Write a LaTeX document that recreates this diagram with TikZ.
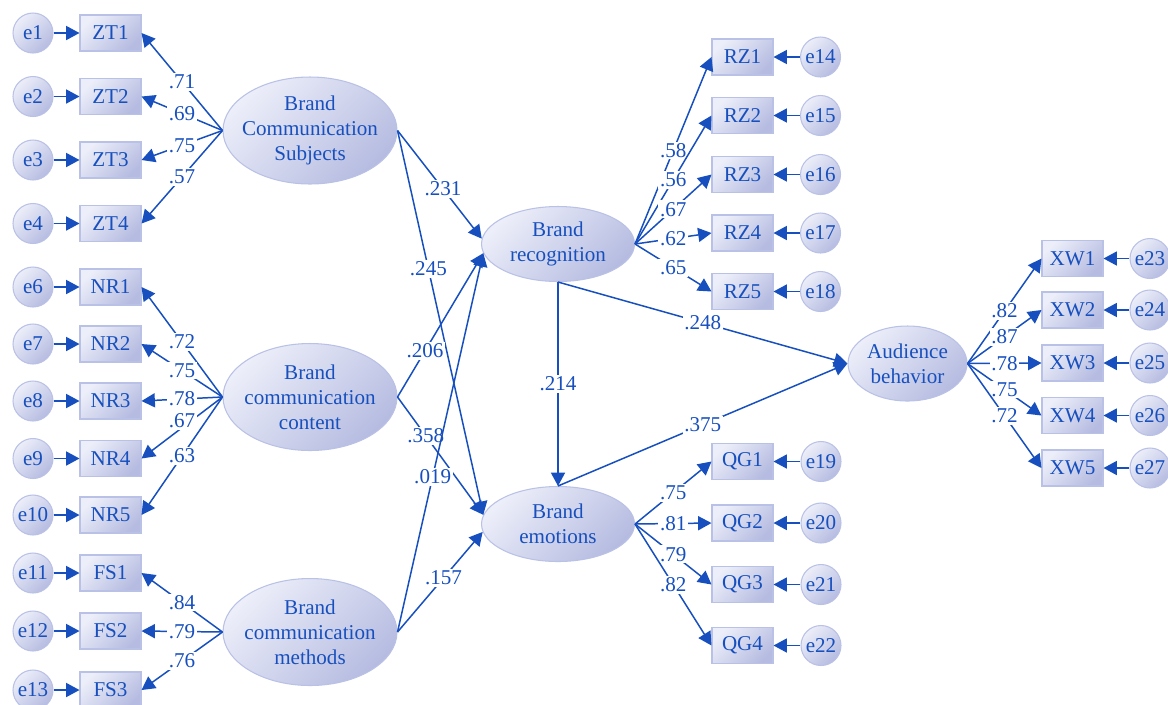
\documentclass[tikz,border=0pt]{standalone}
\usepackage{fontspec}
\setmainfont{Liberation Serif}
\usetikzlibrary{shapes.geometric,arrows.meta}

\definecolor{semblue}{HTML}{1750BE}
\definecolor{shadelight}{HTML}{ECEEF9}
\definecolor{shadedark}{HTML}{B6BCE1}
\definecolor{rimcol}{HTML}{BAC1E6}

\tikzset{
  varbase/.style={draw=rimcol, line width=0.6pt, top color=shadelight,
    bottom color=shadedark, shading angle=45, text=semblue, inner sep=0pt,
    font=\fontsize{12}{14.2}\selectfont},
  indicator/.style={varbase, rectangle, minimum width=1.22cm, minimum height=0.72cm},
  errterm/.style={varbase, circle, minimum size=0.8cm},
  latent/.style={varbase, ellipse, align=center},
  biglatent/.style={latent, inner xsep=-3.9pt, minimum width=3.48cm, minimum height=2.14cm},
  semarrow/.style={draw=semblue, line width=0.85pt, -{Triangle[length=7.6pt,width=8pt]}},
  coef/.style={fill=white, text=semblue, inner sep=1pt, font=\fontsize{12}{14}\selectfont}
}

\begin{document}
\begin{tikzpicture}[x=0.02cm, y=-0.02cm]
  \path[fill=white] (0,0) rectangle (1168,704);
  \useasboundingbox (0,0) rectangle (1168,704);

  % latent variables
  \node[biglatent] (BCS) at (310,130.5) {Brand\\Communication\\Subjects};
  \node[biglatent] (BCC) at (310,397) {Brand\\communication\\content};
  \node[biglatent] (BCM) at (310,632) {Brand\\communication\\methods};
  \node[latent, minimum width=3.06cm, minimum height=1.5cm] (BR) at (558,244) {Brand\\recognition};
  \node[latent, minimum width=3.06cm, minimum height=1.5cm] (BE) at (558,524) {Brand\\emotions};
  \node[latent, minimum width=2.38cm, minimum height=1.5cm] (AB) at (907.5,363.5) {Audience\\behavior};

  % left indicators with their errors
  \foreach \n/\y/\e/\l in {ZT1/33/1/.71, ZT2/96.5/2/.69, ZT3/160/3/.75, ZT4/223.5/4/.57}{
    \node[indicator] (\n) at (110.5,\y) {\n};
    \node[errterm] (e\e) at (33,\y) {e\e};
    \draw[semarrow] (e\e) -- (\n);
    \draw[semarrow] (BCS.west) -- node[coef]{\l} (\n.east);
  }
  \foreach \n/\y/\e/\l in {NR1/287/6/.72, NR2/344/7/.75, NR3/401/8/.78, NR5/515/10/.63}{
    \node[indicator] (\n) at (110.5,\y) {\n};
    \node[errterm] (e\e) at (33,\y) {e\e};
    \draw[semarrow] (e\e) -- (\n);
    \draw[semarrow] (BCC.west) -- node[coef]{\l} (\n.east);
  }
  \node[indicator] (NR4) at (110.5,458.5) {NR4};
  \node[errterm] (e9) at (33,458.5) {e9};
  \draw[semarrow] (e9) -- (NR4);
  \draw[semarrow] (BCC.west) -- node[coef, yshift=4pt]{.67} (NR4.east);
  \foreach \n/\y/\e/\l in {FS1/573/11/.84, FS2/631/12/.79, FS3/690/13/.76}{
    \node[indicator] (\n) at (110.5,\y) {\n};
    \node[errterm] (e\e) at (33,\y) {e\e};
    \draw[semarrow] (e\e) -- (\n);
    \draw[semarrow] (BCM.west) -- node[coef]{\l} (\n.east);
  }

  % right indicators
  \foreach \n/\y/\e/\l in {RZ1/57/14/.58, RZ2/115.5/15/.56, RZ3/174.5/16/.67, RZ4/233/17/.62, RZ5/291.5/18/.65}{
    \node[indicator] (\n) at (742.5,\y) {\n};
    \node[errterm] (e\e) at (820.5,\y) {e\e};
    \draw[semarrow] (e\e) -- (\n);
    \draw[semarrow] (BR.east) -- node[coef]{\l} (\n.west);
  }
  \foreach \n/\y/\e/\l in {QG1/461.5/19/.75, QG2/523/20/.81, QG3/584.5/21/.79, QG4/645.5/22/.82}{
    \node[indicator] (\n) at (742.5,\y) {\n};
    \node[errterm] (e\e) at (821,\y) {e\e};
    \draw[semarrow] (e\e) -- (\n);
    \draw[semarrow] (BE.east) -- node[coef]{\l} (\n.west);
  }
  \foreach \n/\y/\e/\l in {XW1/258.5/23/.82, XW2/310/24/.87, XW3/363/25/.78, XW4/415.5/26/.75, XW5/468/27/.72}{
    \node[indicator] (\n) at (1072.5,\y) {\n};
    \node[errterm] (e\e) at (1150,\y) {e\e};
    \draw[semarrow] (e\e) -- (\n);
    \draw[semarrow] (AB.east) -- node[coef]{\l} (\n.west);
  }

  % structural paths
  \draw[semarrow] (BCS.east) -- node[coef, pos=.54]{.231} (BR.176);
  \draw[semarrow] (BCS.east) -- node[coef, pos=.36]{.245} (BE.173);
  \draw[semarrow] (BCC.east) -- node[coef, pos=.32]{.206} (BR.187);
  \draw[semarrow] (BCC.east) -- node[coef, pos=.33]{.358} (BE.173);
  \draw[semarrow] (BCM.east) -- node[coef, pos=.41]{.019} (BR.187);
  \draw[semarrow] (BCM.east) -- node[coef, pos=.54]{.157} (BE.186);
  \draw[semarrow] (BR.south) -- node[coef]{.214} (BE.north);
  \draw[semarrow] (BR.south) -- node[coef]{.248} (AB.west);
  \draw[semarrow] (BE.north) -- node[coef]{.375} (AB.west);
\end{tikzpicture}
\end{document}
